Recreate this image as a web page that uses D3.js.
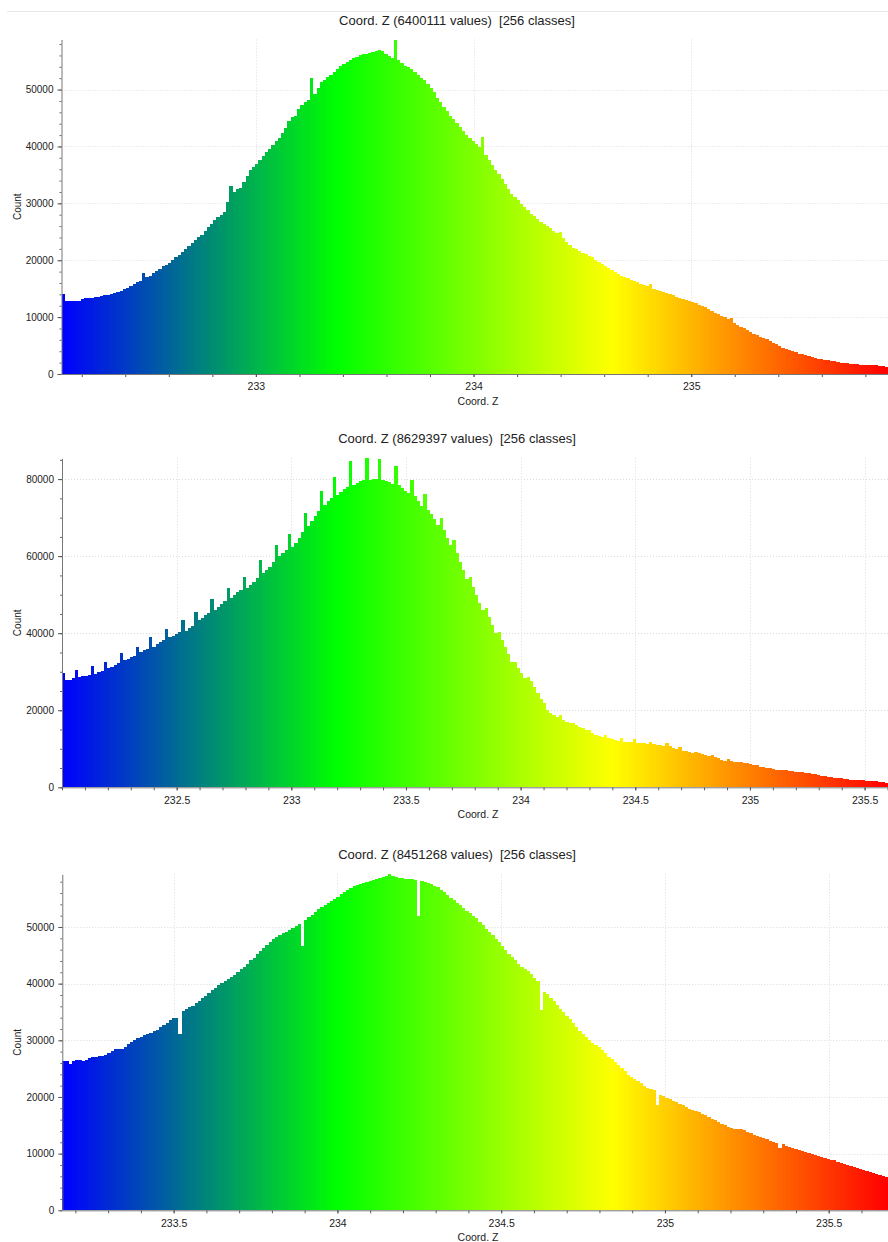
<!DOCTYPE html>
<html>
<head>
<meta charset="utf-8">
<script src="https://cdn.jsdelivr.net/npm/d3@7"></script>
<style>
  body { margin: 0; background: #fff; }
  svg { display: block; font-family: "Liberation Sans", Arial, sans-serif; }
</style>
</head>
<body>
<script>
// ---- data ----
const titles = [
  "Coord. Z (6400111 values)  [256 classes]",
  "Coord. Z (8629397 values)  [256 classes]",
  "Coord. Z (8451268 values)  [256 classes]"
];
const xLabel = "Coord. Z";
const yLabel = "Count";

// value range covered by the 256 classes of each histogram
const zRanges = [[232.107, 235.904], [232.0, 235.602], [233.160, 235.681]];

const xTicks = [
  [233, 234, 235],
  [232.5, 233, 233.5, 234, 234.5, 235, 235.5],
  [233.5, 234, 234.5, 235, 235.5]
];
const xMinorStep = [0.2, 0.1, 0.1];
const yTicks = [
  [0, 10000, 20000, 30000, 40000, 50000],
  [0, 20000, 40000, 60000, 80000],
  [0, 10000, 20000, 30000, 40000, 50000]
];
const yMinorStep = [2000, 5000, 2000];

const counts1 = [
  14100, 12800, 12800, 12900, 12800, 12900, 13100, 13300, 13300, 13400, 13500, 13600, 13700, 13800, 13900, 14000,
  14200, 14400, 14600, 14900, 15200, 15500, 15800, 16100, 16400, 17700, 17000, 17300, 17700, 18100, 18500, 18900,
  19200, 19500, 20000, 20500, 21000, 21500, 22000, 22500, 23000, 23500, 24000, 24500, 25200, 25800, 26400, 27000,
  27600, 28000, 28400, 30200, 33000, 32000, 32500, 32700, 33800, 34800, 35800, 36400, 37000, 37700, 38400, 39000,
  39600, 40300, 41000, 41500, 42300, 43300, 44500, 45100, 45300, 46600, 47200, 47800, 48200, 52000, 49200, 50200,
  51300, 51700, 52200, 52600, 53100, 53700, 54200, 54500, 54800, 55200, 55500, 55800, 56100, 56200, 56300, 56400,
  56600, 56800, 57000, 56700, 56300, 55900, 55600, 58800, 55200, 54700, 54200, 53900, 53600, 53100, 52600, 52100,
  51600, 51000, 50300, 49500, 48600, 47800, 46900, 46200, 45400, 44800, 44100, 43500, 42700, 42000, 41400, 40900,
  40400, 39900, 41600, 38500, 37600, 36700, 35900, 35100, 34200, 33400, 32500, 31700, 31100, 30500, 29900, 29400,
  28800, 28200, 27700, 27300, 26800, 26400, 26000, 25600, 25100, 24700, 24900, 23900, 23200, 22600, 22200, 21900,
  21600, 21300, 21100, 20800, 20500, 20100, 19700, 19300, 19000, 18600, 18200, 17900, 17600, 17300, 17000, 16800,
  16600, 16300, 16100, 15900, 15600, 15400, 15900, 15000, 14800, 14600, 14400, 14200, 14000, 13800, 13600, 13400,
  13200, 13000, 12800, 12700, 12500, 12200, 12000, 11700, 11400, 11100, 10800, 10500, 10200, 10000, 9700, 9900,
  9000, 8600, 8300, 8000, 7700, 7400, 7100, 6800, 6500, 6300, 6100, 5800, 5500, 5200, 4900, 4600,
  4400, 4200, 4000, 3800, 3600, 3500, 3300, 3200, 3000, 2900, 2700, 2600, 2500, 2400, 2300, 2200,
  2100, 2000, 2000, 1900, 1800, 1800, 1700, 1600, 1600, 1600, 1500, 1500, 1500, 1400, 1400, 1300
];

const counts2 = [
  29600, 27900, 27900, 28300, 30500, 28700, 28800, 28900, 29200, 31500, 29400, 29800, 30200, 32600, 30900, 31300,
  31800, 32300, 34800, 33000, 33300, 33700, 34200, 36500, 35200, 35600, 36000, 38900, 36500, 37100, 37600, 38200,
  41000, 38900, 39300, 39900, 40400, 43300, 40700, 41300, 41900, 45400, 43400, 44000, 44600, 45300, 48800, 46000,
  46700, 47500, 48300, 51700, 49100, 49800, 50600, 51200, 54500, 51700, 52500, 53300, 54400, 58900, 55700, 56500,
  57300, 58600, 62800, 60100, 60700, 61500, 65800, 62500, 63400, 64800, 66200, 71300, 67700, 69000, 70300, 71800,
  76800, 73300, 74300, 75200, 80500, 75900, 76700, 77400, 78000, 84600, 78500, 79000, 79400, 79700, 85400, 79800,
  79900, 79900, 85300, 79800, 79500, 79200, 78800, 83500, 78500, 77800, 77000, 76300, 79800, 75700, 74300, 73100,
  76200, 72000, 70900, 69700, 68200, 69900, 66800, 64800, 62800, 64100, 60800, 58600, 56300, 54000, 54700, 52100,
  50000, 47900, 45900, 46500, 44300, 42000, 40000, 40400, 38300, 36300, 34500, 32600, 32600, 30900, 29600, 28300,
  28700, 27500, 26000, 24500, 23000, 22000, 20100, 19300, 18700, 18200, 18800, 17500, 17000, 16600, 16800, 16200,
  15700, 15300, 14900, 14900, 14100, 13700, 13300, 13000, 13600, 12700, 12500, 12300, 12000, 12700, 11800, 11700,
  11700, 12500, 11600, 11500, 11400, 11200, 11800, 11200, 11100, 10900, 10800, 11600, 10700, 10300, 10000, 10400,
  9500, 9300, 9100, 8900, 9200, 8800, 8600, 8300, 8000, 8400, 7800, 7500, 7200, 6900, 7300, 6700,
  6600, 6500, 6600, 6300, 6200, 6000, 5800, 5700, 5300, 5200, 5000, 5100, 4800, 4600, 4500, 4400,
  4500, 4300, 4200, 4100, 3900, 3900, 3700, 3600, 3400, 3400, 3100, 3000, 2900, 2800, 2800, 2500,
  2400, 2300, 2200, 2200, 2000, 1900, 1900, 1900, 1800, 1700, 1700, 1600, 1600, 1400, 1300, 1200
];

const counts3 = [
  26300, 26300, 25900, 26400, 26600, 26500, 26400, 26500, 26800, 27000, 27100, 27200, 27200, 27400, 27800, 28100,
  28500, 28500, 28400, 28800, 29400, 29700, 30100, 30400, 30600, 30900, 31100, 31300, 31600, 31900, 32300, 32700,
  33100, 33600, 33900, 34000, 31200, 35200, 35500, 35800, 36100, 36500, 37000, 37500, 37900, 38400, 38900, 39200,
  39700, 40200, 40500, 40900, 41200, 41600, 42000, 42500, 42900, 43500, 44100, 44600, 45200, 45700, 46300, 46800,
  47400, 47900, 48200, 48500, 48900, 49200, 49500, 49900, 50200, 50500, 46600, 51300, 51700, 52200, 52700, 53200,
  53600, 53900, 54300, 54600, 55000, 55300, 55800, 56100, 56500, 56800, 57200, 57400, 57600, 57800, 58000, 58100,
  58300, 58400, 58600, 58800, 59000, 59300, 59000, 58800, 58600, 58600, 58500, 58400, 58400, 58300, 51900, 58100,
  57900, 57800, 57500, 57300, 57000, 56600, 56100, 55600, 55100, 54700, 54200, 53800, 53400, 52900, 52500, 52000,
  51500, 50900, 50300, 49700, 49100, 48500, 47900, 47300, 46700, 46000, 45300, 44700, 44100, 43500, 43000, 42600,
  42300, 41700, 41000, 40400, 35300, 38600, 38100, 37500, 36900, 36200, 35600, 35000, 34300, 33700, 33000, 32300,
  31600, 31100, 30600, 30100, 29600, 29200, 28800, 28300, 27700, 27100, 26700, 26200, 25700, 25100, 24500, 23900,
  23500, 23100, 22800, 22400, 22000, 21600, 21400, 21200, 18500, 20400, 20100, 19900, 19600, 19300, 19100, 18800,
  18500, 18200, 17900, 17700, 17500, 17300, 17000, 16800, 16500, 16200, 15900, 15600, 15300, 15000, 14700, 14500,
  14400, 14300, 14300, 14100, 13900, 13600, 13300, 13100, 12900, 12700, 12500, 12300, 12100, 11900, 11000, 11700,
  11400, 11200, 11000, 10900, 10700, 10500, 10300, 10100, 10000, 9800, 9600, 9400, 9300, 9100, 8900, 8800,
  8600, 8400, 8200, 8000, 7800, 7700, 7500, 7300, 7100, 7000, 6800, 6600, 6400, 6200, 6000, 5900
];

// CloudCompare "Blue > Green > Yellow > Red" colour scale
const rampStops = [0, 1 / 3, 2 / 3, 1];
const rampColors = ["#0000ff", "#00ff00", "#ffff00", "#ff0000"];

// ---- page layout ----
const width = 888;
const height = 1242;

// plot rectangles of the three panels (screen pixels)
const panels = [
  { left: 61.5, top: 39.5, bottom: 374 },
  { left: 62, top: 458.3, bottom: 787.3 },
  { left: 62.3, top: 874.3, bottom: 1210.3 }
];
const plotRight = 888;

const svg = d3
  .select("body")
  .append("svg")
  .attr("width", width)
  .attr("height", height);

// faint window edge above the first chart
svg
  .append("line")
  .attr("x1", 7)
  .attr("x2", width)
  .attr("y1", 11.5)
  .attr("y2", 11.5)
  .attr("stroke", "#e6e6e6");

const ramp = d3.scaleLinear().domain(rampStops).range(rampColors);

[counts1, counts2, counts3].forEach((counts, p) => {
  drawHistogram(counts, p);
});

function drawHistogram(counts, p) {
  const box = panels[p];
  const [zMin, zMax] = zRanges[p];
  const n = counts.length;
  const step = (zMax - zMin) / n;

  const x = d3.scaleLinear().domain([zMin, zMax]).range([box.left, plotRight]);
  const y = d3
    .scaleLinear()
    .domain([0, d3.max(counts)])
    .range([box.bottom, box.top]);

  const g = svg.append("g");

  // dotted grid at the major ticks
  g.append("g")
    .selectAll("line")
    .data(yTicks[p].filter((d) => d > 0))
    .enter()
    .append("line")
    .attr("x1", box.left)
    .attr("x2", plotRight)
    .attr("y1", (d) => Math.round(y(d)) + 0.5)
    .attr("y2", (d) => Math.round(y(d)) + 0.5)
    .attr("stroke", "#dcdcdc")
    .attr("stroke-dasharray", "1,2");

  g.append("g")
    .selectAll("line")
    .data(xTicks[p])
    .enter()
    .append("line")
    .attr("x1", (d) => Math.round(x(d)) + 0.5)
    .attr("x2", (d) => Math.round(x(d)) + 0.5)
    .attr("y1", box.top)
    .attr("y2", box.bottom)
    .attr("stroke", "#dcdcdc")
    .attr("stroke-dasharray", "1,2");

  // bars, coloured by class position; snapped to whole pixels so no seams show
  const edge = (i) => Math.round(x(zMin + i * step));
  g.append("g")
    .attr("shape-rendering", "crispEdges")
    .selectAll("rect")
    .data(counts)
    .enter()
    .append("rect")
    .attr("x", (d, i) => edge(i))
    .attr("width", (d, i) => edge(i + 1) - edge(i))
    .attr("y", (d) => Math.round(y(d)))
    .attr("height", (d) => Math.round(box.bottom) - Math.round(y(d)))
    .attr("fill", (d, i) => ramp((i + 0.5) / n));

  // y axis (major + minor ticks)
  const yMinor = d3.range(0, d3.max(counts), yMinorStep[p]);
  g.append("g")
    .attr("transform", `translate(${box.left},0)`)
    .call(d3.axisLeft(y).tickValues(yMinor).tickSize(2).tickFormat(""))
    .call((a) => a.select(".domain").remove())
    .selectAll("line")
    .attr("stroke", "#666");

  const yAxis = g
    .append("g")
    .attr("transform", `translate(${box.left},0)`)
    .call(
      d3
        .axisLeft(y)
        .tickValues(yTicks[p])
        .tickSize(4)
        .tickSizeOuter(0)
        .tickPadding(4)
        .tickFormat(d3.format("d"))
    );
  yAxis.select(".domain").attr("stroke", "#777");
  yAxis.selectAll(".tick line").attr("stroke", "#555");
  yAxis
    .selectAll("text")
    .attr("fill", "#222")
    .style("font-family", "'Liberation Sans Narrow', 'Liberation Sans', Arial, sans-serif")
    .style("font-size", "10px");

  // x axis (major + minor ticks)
  const xMinor = d3
    .range(Math.ceil(zMin / xMinorStep[p]), Math.floor(zMax / xMinorStep[p]) + 1)
    .map((k) => +(k * xMinorStep[p]).toFixed(2));
  g.append("g")
    .attr("transform", `translate(0,${box.bottom})`)
    .call(d3.axisBottom(x).tickValues(xMinor).tickSize(3).tickFormat(""))
    .call((a) => a.select(".domain").remove())
    .selectAll("line")
    .attr("stroke", "#555");

  const xAxis = g
    .append("g")
    .attr("transform", `translate(0,${box.bottom})`)
    .call(
      d3
        .axisBottom(x)
        .tickValues(xTicks[p])
        .tickSize(3)
        .tickSizeOuter(0)
        .tickPadding(6)
        .tickFormat(d3.format("~g"))
    );
  xAxis.select(".domain").attr("stroke", "#777");
  xAxis.selectAll(".tick line").attr("stroke", "#555");
  xAxis
    .selectAll("text")
    .attr("fill", "#222")
    .style("font-size", "10.5px");

  // titles
  g.append("text")
    .attr("x", 457)
    .attr("y", box.top - 15)
    .attr("text-anchor", "middle")
    .attr("fill", "#222")
    .style("font-size", "13px")
    .style("white-space", "pre")
    .text(titles[p]);

  g.append("text")
    .attr("x", 478)
    .attr("y", box.bottom + 31)
    .attr("text-anchor", "middle")
    .attr("fill", "#222")
    .style("font-size", "10.5px")
    .text(xLabel);

  g.append("text")
    .attr("transform", `translate(21,${(box.top + box.bottom) / 2}) rotate(-90)`)
    .attr("text-anchor", "middle")
    .attr("fill", "#222")
    .style("font-size", "10px")
    .text(yLabel);
}
</script>
</body>
</html>
